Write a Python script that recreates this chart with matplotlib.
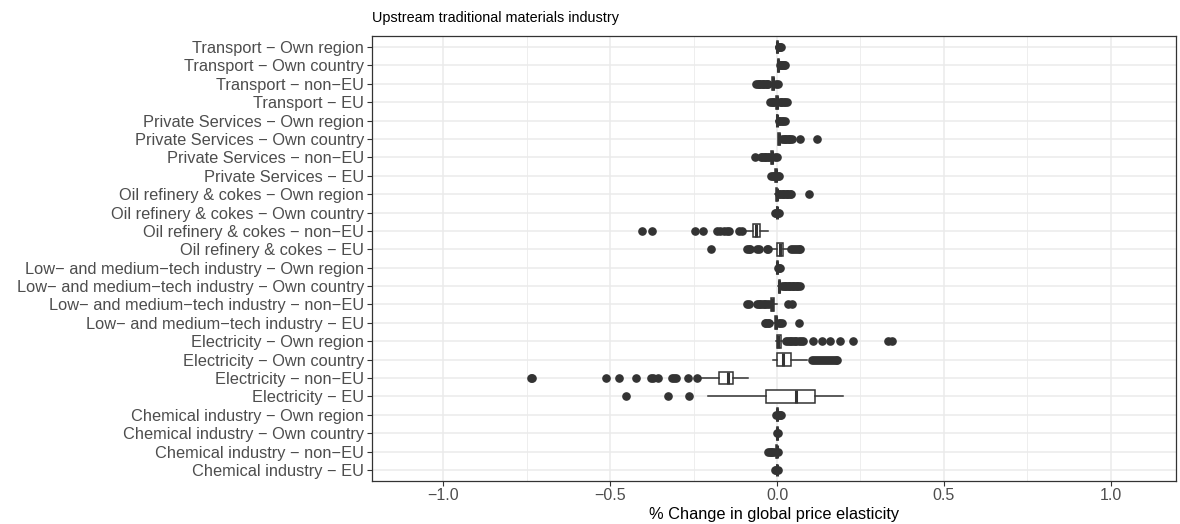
import numpy as np
import matplotlib
matplotlib.use("Agg")
import matplotlib.pyplot as plt
from matplotlib.ticker import MultipleLocator

plt.rcParams['font.family'] = ['Liberation Sans', 'DejaVu Sans']

# categories, top to bottom as shown
categories = [
    "Transport − Own region", "Transport − Own country", "Transport − non−EU", "Transport − EU",
    "Private Services − Own region", "Private Services − Own country",
    "Private Services − non−EU", "Private Services − EU",
    "Oil refinery & cokes − Own region", "Oil refinery & cokes − Own country",
    "Oil refinery & cokes − non−EU", "Oil refinery & cokes − EU",
    "Low− and medium−tech industry − Own region", "Low− and medium−tech industry − Own country",
    "Low− and medium−tech industry − non−EU", "Low− and medium−tech industry − EU",
    "Electricity − Own region", "Electricity − Own country", "Electricity − non−EU", "Electricity − EU",
    "Chemical industry − Own region", "Chemical industry − Own country",
    "Chemical industry − non−EU", "Chemical industry − EU",
]

q1 = [0.000, 0.003, -0.014, -0.002, -0.001, 0.004, -0.017, -0.005,
      -0.002, -0.001, -0.071, 0.001, 0.000, 0.005, -0.017, -0.005,
      -0.001, 0.001, -0.174, -0.033, -0.001, 0.000, -0.002, -0.001]
med = [0.001, 0.004, -0.012, 0.000, 0.000, 0.006, -0.015, -0.003,
       0.000, 0.000, -0.063, 0.009, 0.001, 0.007, -0.014, -0.003,
       0.003, 0.017, -0.146, 0.057, 0.001, 0.001, 0.000, 0.000]
q3 = [0.002, 0.005, -0.010, 0.002, 0.001, 0.008, -0.013, -0.001,
      0.001, 0.001, -0.051, 0.019, 0.002, 0.009, -0.010, -0.001,
      0.011, 0.041, -0.133, 0.114, 0.002, 0.002, 0.001, 0.001]
whislo = [-0.002, 0.002, -0.020, -0.005, -0.003, 0.002, -0.020, -0.008,
          -0.005, -0.003, -0.098, -0.016, -0.002, 0.003, -0.022, -0.018,
          -0.004, -0.011, -0.232, -0.206, -0.003, -0.002, -0.006, -0.003]
whishi = [0.004, 0.007, -0.005, 0.005, 0.003, 0.012, -0.010, 0.000,
          0.003, 0.003, -0.026, 0.035, 0.003, 0.012, -0.001, 0.003,
          0.016, 0.089, -0.088, 0.197, 0.003, 0.003, 0.002, 0.002]
fliers = [
    [0.005, 0.007, 0.009, 0.011],
    [0.008, 0.011, 0.014, 0.017, 0.020, 0.023],
    [-0.062, -0.058, -0.054, -0.050, -0.046, -0.042, -0.038, -0.034, -0.030, -0.026, -0.002, 0.002],
    [-0.020, -0.016, -0.012, -0.008, 0.008, 0.012, 0.016, 0.020, 0.024, 0.029],
    [0.006, 0.010, 0.014, 0.018, 0.023],
    [0.016, 0.020, 0.024, 0.028, 0.032, 0.036, 0.040, 0.044, 0.069, 0.119],
    [-0.066, -0.048, -0.044, -0.040, -0.036, -0.032, -0.028, -0.024, -0.005, -0.001],
    [-0.017, -0.013, -0.009, 0.002, 0.005],
    [0.006, 0.010, 0.014, 0.018, 0.022, 0.026, 0.030, 0.034, 0.038, 0.041, 0.096],
    [-0.006, -0.003, 0.003, 0.006],
    [-0.405, -0.375, -0.245, -0.221, -0.180, -0.170, -0.160, -0.150, -0.145, -0.115, -0.105],
    [-0.199, -0.090, -0.085, -0.080, -0.060, -0.055, -0.031, -0.026,
     0.042, 0.048, 0.054, 0.060, 0.066, 0.070],
    [0.004, 0.007, 0.009],
    [0.016, 0.020, 0.024, 0.028, 0.032, 0.036, 0.040, 0.044, 0.048, 0.052, 0.056, 0.060, 0.064, 0.068],
    [-0.090, -0.085, -0.061, -0.055, -0.050, -0.045, -0.040, -0.035, -0.030, -0.025, 0.034, 0.044],
    [-0.036, -0.032, -0.028, -0.024, 0.006, 0.010, 0.014, 0.067],
    [0.028, 0.033, 0.038, 0.043, 0.048, 0.053, 0.058, 0.065, 0.072, 0.079,
     0.109, 0.134, 0.159, 0.189, 0.228, 0.333, 0.343],
    [0.104, 0.110, 0.116, 0.122, 0.128, 0.134, 0.140, 0.146, 0.152, 0.158, 0.164, 0.170, 0.176, 0.180],
    [-0.737, -0.733, -0.512, -0.474, -0.423, -0.377, -0.370, -0.355, -0.315, -0.310, -0.302, -0.266, -0.239],
    [-0.452, -0.325, -0.263],
    [-0.002, 0.005, 0.009, 0.013],
    [-0.001, 0.002],
    [-0.026, -0.022, -0.018, -0.014, -0.010, 0.004],
    [-0.006, -0.003, 0.004],
]

title = "Upstream traditional materials industry"
xlabel = "% Change in global price elasticity"
xticks = [-1.0, -0.5, 0.0, 0.5, 1.0]

n = len(categories)
positions = np.arange(n, 0, -1)
stats = [dict(label=c, q1=a, med=m, q3=b, whislo=lo, whishi=hi, fliers=f)
         for c, a, m, b, lo, hi, f in zip(categories, q1, med, q3, whislo, whishi, fliers)]

fig = plt.figure(figsize=(11.8, 5.24), dpi=100)
ax = fig.add_axes([372 / 1180, 1 - 481 / 524, (1176 - 372) / 1180, (481 - 36) / 524])

dark = '#333333'
ax.bxp(stats, positions=positions, widths=0.7, orientation='horizontal',
       patch_artist=True, showcaps=False, manage_ticks=False,
       boxprops=dict(facecolor='white', edgecolor=dark, linewidth=1.1),
       medianprops=dict(color=dark, linewidth=2.2),
       whiskerprops=dict(color=dark, linewidth=1.1),
       flierprops=dict(marker='o', markerfacecolor=dark, markeredgecolor=dark,
                       markersize=5.2, linestyle='none'))

ax.set_xlim(-1.213, 1.195)
ax.set_ylim(0.4, n + 0.6)
ax.set_xticks(xticks)
ax.set_xticklabels([f"{t:.1f}".replace('-', '−') for t in xticks])
ax.xaxis.set_minor_locator(MultipleLocator(0.25))
ax.set_yticks(positions)
ax.set_yticklabels(categories)

ax.set_axisbelow(True)
ax.grid(True, which='major', color='#EBEBEB', linewidth=1.1)
ax.grid(True, which='minor', axis='x', color='#EBEBEB', linewidth=0.6)
ax.tick_params(axis='both', which='major', length=3.5, width=0.8, color=dark,
               labelcolor='#4D4D4D', labelsize=11.5)
ax.tick_params(axis='y', pad=2, labelsize=11.8)
ax.tick_params(axis='x', pad=1.5)
ax.tick_params(which='minor', length=0)
for s in ax.spines.values():
    s.set_color(dark)
    s.set_linewidth(0.9)

ax.set_xlabel(xlabel, fontsize=11.8, color='black', labelpad=3)
fig.text(372 / 1180, 1 - 18 / 524, title, fontsize=10.4, ha='left', va='center', color='black')

fig.savefig('out.png', dpi=100)
